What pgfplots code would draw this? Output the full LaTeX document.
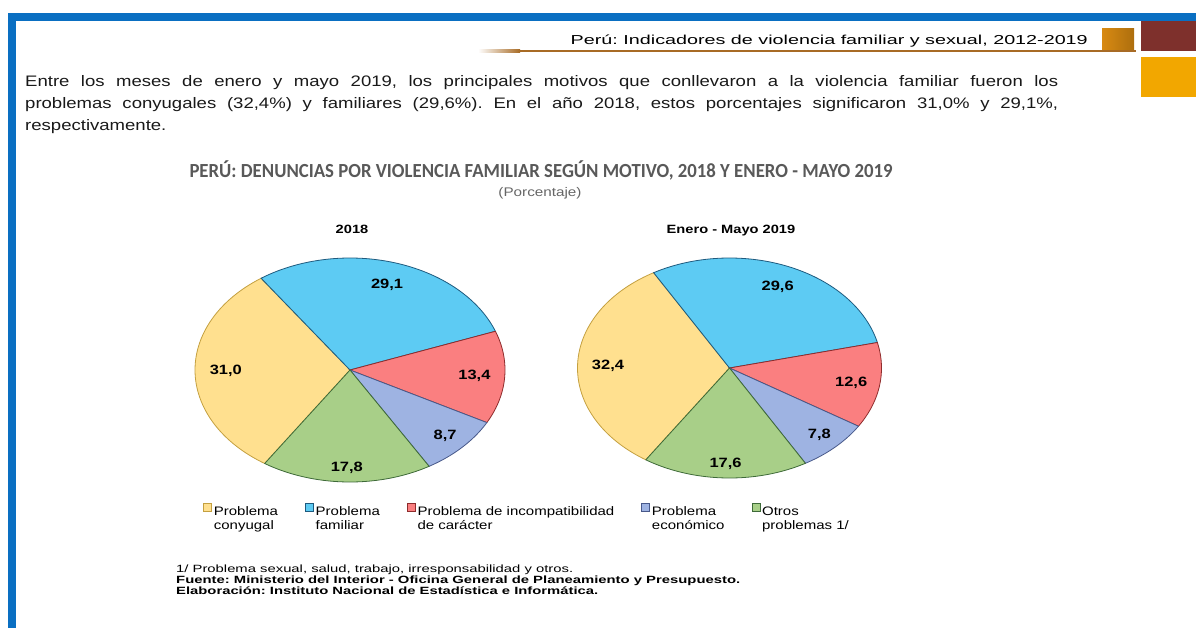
\documentclass[border=0pt]{standalone}
\usepackage{pgfplots}
\pgfplotsset{compat=1.18}
\usepackage{pgfplotstable}
\usepackage{fontspec}
\setmainfont{Liberation Sans}[FakeStretch=1.22]
\newfontfamily\titlefont{Carlito}
\frenchspacing

\definecolor{frameblue}{HTML}{0A6FC2}
\definecolor{hdrline}{HTML}{A86B25}
\definecolor{boxred}{HTML}{7E302C}
\definecolor{boxorange}{HTML}{F2A700}
\definecolor{boxsmall}{HTML}{D88A12}
\definecolor{titlegray}{HTML}{595959}
\definecolor{pc0}{HTML}{FFE08F}\definecolor{pd0}{HTML}{C4A040}
\definecolor{pc1}{HTML}{5DCBF3}\definecolor{pd1}{HTML}{1E5A7E}
\definecolor{pc2}{HTML}{FA7F80}\definecolor{pd2}{HTML}{8E2C2C}
\definecolor{pc3}{HTML}{9EB3E2}\definecolor{pd3}{HTML}{48598A}
\definecolor{pc4}{HTML}{A8CF88}\definecolor{pd4}{HTML}{3E6A38}

% Porcentajes por motivo
\pgfplotstableread{
motivo pct
conyugal 31.0
familiar 29.1
caracter 13.4
economico 8.7
otros 17.8
}\tblA
\pgfplotstableread{
motivo pct
conyugal 32.4
familiar 29.6
caracter 12.6
economico 7.8
otros 17.6
}\tblB

% draws the five slices of a table, clockwise from angle 236.6
\newcommand\pieslices[1]{%
  \def\s{236.6}%
  \pgfplotsforeachungrouped \i in {0,...,4}{%
    \pgfplotstablegetelem{\i}{pct}\of#1%
    \let\v\pgfplotsretval
    \pgfmathsetmacro\e{\s-3.6*\v}%
    \pgfmathsetmacro\m{(\s+\e)/2}%
    \pgfmathsetmacro\r{0.8+0.07*max(0,-sin(\m))}%
    \edef\cmd{\noexpand\addplot[fill=pc\i, draw=pd\i, line width=0.8pt,
      domain=\e:\s, samples=80, variable=\noexpand\t]
      ({cos(\noexpand\t)},{sin(\noexpand\t)}) -- (axis cs:0,0) -- cycle;}%
    \cmd
    \edef\cmd{\noexpand\node[font=\noexpand\bfseries\noexpand\fontsize{13.5}{13.5}\noexpand\selectfont]
      at (axis cs:{\r*cos(\m)},{\r*sin(\m)})
      {\noexpand\pgfmathprintnumber[fixed,fixed zerofill,precision=1,use comma]{\v}};}%
    \cmd
    \let\s\e
  }%
}

\pgfplotsset{
  pie/.style={scale only axis, hide axis, anchor=center, clip=false,
    xmin=-1, xmax=1, ymin=-1, ymax=1,
    /pgf/number format/assume math mode=true},
}

\newcommand\legtwo[2]{\begin{tabular}[t]{@{}l@{}}#1\\#2\end{tabular}}

\begin{document}
\begin{tikzpicture}
\begin{scope}[x=1pt,y=-1pt]
\path[use as bounding box] (0,0) rectangle (1196,628);
% marco
\fill[frameblue] (8,13) rectangle (1196,21);
\fill[frameblue] (8,13) rectangle (16,628);
\fill[boxred] (1141,21) rectangle (1196,51);
\fill[boxorange] (1141,57) rectangle (1196,97);
\shade[left color=boxsmall, right color=boxsmall!80!black] (1102,29) rectangle (1134,51);
\shade[left color=white, right color=hdrline] (478,50) rectangle (520,52.2);
\fill[hdrline] (520,50) rectangle (1136,52.2);
\node[anchor=base east, inner sep=0, font=\fontsize{13}{13}\selectfont]
  at (1088,45) {\resizebox{517pt}{\height}{Perú: Indicadores de violencia familiar y sexual, 2012-2019}};
% parrafo
\begin{scope}[every node/.style={anchor=base west, inner sep=0, text=black!90,
    font=\fontsize{15.2}{17}\selectfont}]
\node at (25,87) {\makebox[1033pt][s]{Entre los meses de enero y mayo 2019, los principales motivos que conllevaron a la violencia familiar fueron los}};
\node at (25,109) {\makebox[1033pt][s]{problemas conyugales (32,4\%) y familiares (29,6\%). En el año 2018, estos porcentajes significaron 31,0\% y 29,1\%,}};
\node at (25,131) {respectivamente.};
\end{scope}
% titulo
\node[anchor=base, inner sep=0, text=titlegray, font=\titlefont\bfseries\fontsize{20}{21}\selectfont]
  at (541,178) {\resizebox{703pt}{\height}{PERÚ: DENUNCIAS POR VIOLENCIA FAMILIAR SEGÚN MOTIVO, 2018 Y ENERO - MAYO 2019}};
\node[anchor=base, inner sep=0, text=black!60, font=\fontsize{12.5}{13}\selectfont]
  at (540,197) {(Porcentaje)};
\node[anchor=base, inner sep=0, font=\bfseries\fontsize{12}{13}\selectfont] at (352,234) {2018};
\node[anchor=base, inner sep=0, font=\bfseries\fontsize{12}{13}\selectfont] at (731,234) {Enero - Mayo 2019};
% notas
\begin{scope}[every node/.style={anchor=base west, inner sep=0, font=\fontsize{10.5}{11}\selectfont}]
\node at (176,572) {\resizebox{397pt}{\height}{1/ Problema sexual, salud, trabajo, irresponsabilidad y otros.}};
\node at (176,583) {\resizebox{564pt}{\height}{\bfseries Fuente: Ministerio del Interior - Oficina General de Planeamiento y Presupuesto.}};
\node at (176,594) {\resizebox{422pt}{\height}{\bfseries Elaboración: Instituto Nacional de Estadística e Informática.}};
\end{scope}
\end{scope}

\begin{axis}[pie, at={(350pt,-370pt)}, width=310pt, height=224pt,
  legend columns=5,
  legend image code/.code={\draw[#1, line width=0.6pt] (0pt,-0.5pt) rectangle (8pt,7.5pt);},
  legend style={at={(axis description cs:0.026,-0.095)}, anchor=north west,
    draw=none, fill=none, inner sep=0pt,
    font=\fontsize{12.3}{14}\selectfont,
    /tikz/every even column/.append style={column sep=25pt}},
  ]
\pieslices{\tblA}
\legend{\legtwo{Problema}{conyugal}, \legtwo{Problema}{familiar},
  \legtwo{Problema de incompatibilidad}{de carácter}, \legtwo{Problema}{económico},
  \legtwo{Otros}{problemas 1/}}
\end{axis}

\begin{axis}[pie, at={(729.5pt,-368pt)}, width=304pt, height=220pt]
\pieslices{\tblB}
\end{axis}
\end{tikzpicture}
\end{document}
